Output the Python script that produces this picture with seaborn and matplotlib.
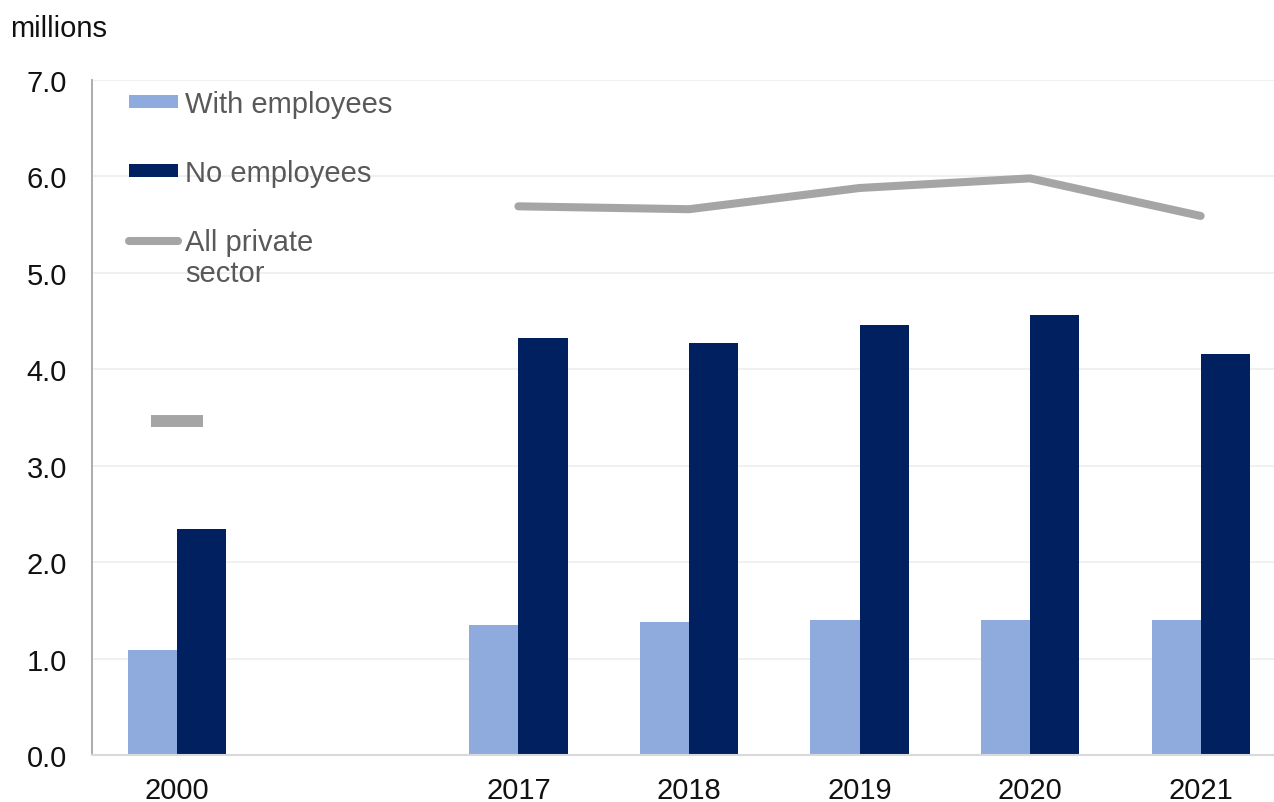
import matplotlib
matplotlib.use("Agg")
import matplotlib.pyplot as plt
from matplotlib.patches import Patch
from matplotlib.lines import Line2D
import pandas as pd
import seaborn as sns

# Category slots along the x axis (the blank slot separates 2000 from 2017)
slots = ["2000", "", "2017", "2018", "2019", "2020", "2021"]
years = ["2000", "2017", "2018", "2019", "2020", "2021"]

# Private sector businesses, millions
with_employees = [1.09, 1.35, 1.38, 1.40, 1.40, 1.40]
no_employees = [2.34, 4.32, 4.27, 4.46, 4.56, 4.16]
all_private = [3.46, 5.69, 5.66, 5.88, 5.98, 5.59]

series_names = ["With employees", "No employees"]
series_colors = ["#8FAADC", "#002060"]
line_color = "#A5A5A5"

FS = 21

sns.set_theme(style="white")
plt.rcParams["font.family"] = ["Liberation Sans", "DejaVu Sans"]

bars = pd.DataFrame({
    "year": years * 2,
    "series": [series_names[0]] * len(years) + [series_names[1]] * len(years),
    "value": with_employees + no_employees,
})

fig = plt.figure(figsize=(12.74, 8.03), dpi=100)
ax = fig.add_axes([92 / 1274, 1 - 756 / 803, 1 - 92 / 1274, (756 - 81) / 803])

sns.barplot(
    data=bars, x="year", y="value", hue="series",
    order=slots, hue_order=series_names, palette=series_colors,
    width=0.576, saturation=1, linewidth=0, legend=False, ax=ax,
)

# Total line: 2017-2021 is continuous, 2000 stands on its own as a dash
pos = [slots.index(y) for y in years]
sns.lineplot(
    x=pos[1:], y=all_private[1:], color=line_color, linewidth=5.8,
    solid_capstyle="round", solid_joinstyle="round", ax=ax,
)
sns.lineplot(
    x=pos[:1], y=all_private[:1], color=line_color, marker="_",
    markersize=38, markeredgewidth=8.6, markeredgecolor=line_color,
    linewidth=0, ax=ax,
)

ax.set_ylim(0, 7)
ax.set_xlim(-0.5, 6.43)
ax.set_yticks([i for i in range(8)])
ax.set_yticklabels([f"{i:.1f}" for i in range(8)])
ax.set_xlabel("")
ax.set_ylabel("")
ax.yaxis.grid(True, color="#EDEDED", linewidth=1.2)
ax.set_axisbelow(True)
ax.tick_params(axis="y", length=0, pad=18, labelsize=FS, labelcolor="#111111")
ax.tick_params(axis="x", length=0, pad=15, labelsize=FS, labelcolor="#111111")

for side in ["top", "right"]:
    ax.spines[side].set_visible(False)
ax.spines["left"].set_color("#A6A6A6")
ax.spines["left"].set_linewidth(1.3)
ax.spines["bottom"].set_color("#D9D9D9")
ax.spines["bottom"].set_linewidth(1.5)

handles = [
    Patch(facecolor=series_colors[0], edgecolor="none"),
    Patch(facecolor=series_colors[1], edgecolor="none"),
    Line2D([0], [0], color=line_color, linewidth=5.8, solid_capstyle="round"),
]
leg = ax.legend(
    handles, [series_names[0], series_names[1], "All private"],
    loc="upper left", bbox_to_anchor=(129 / 1274, 1 - 91 / 803),
    bbox_transform=fig.transFigure, frameon=False, fontsize=FS,
    borderpad=0, borderaxespad=0, handlelength=1.68, handleheight=0.34,
    handletextpad=0.24, labelspacing=1.4,
)
for t in leg.get_texts():
    t.set_color("#595959")

fig.text(185 / 1274, 1 - 274 / 803, "sector", fontsize=FS, color="#595959",
         va="center", ha="left")
fig.text(10 / 1274, 1 - 37 / 803, "millions", fontsize=FS, color="#111111",
         va="baseline", ha="left")

fig.savefig("out.png", dpi=100)
